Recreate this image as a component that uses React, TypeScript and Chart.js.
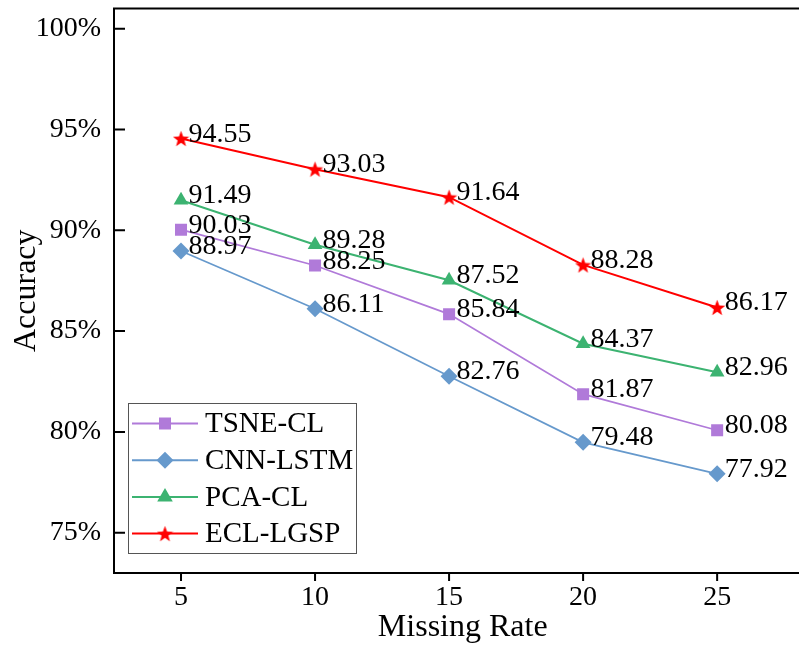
import React, { useEffect, useRef } from 'react';
import { Chart, registerables } from 'chart.js';
Chart.register(...registerables);

const missingRates = [5, 10, 15, 20, 25];
const tsneCL = [90.03, 88.25, 85.84, 81.87, 80.08];
const cnnLSTM = [88.97, 86.11, 82.76, 79.48, 77.92];
const pcaCL = [91.49, 89.28, 87.52, 84.37, 82.96];
const eclLGSP = [94.55, 93.03, 91.64, 88.28, 86.17];
const seriesNames = ['TSNE-CL', 'CNN-LSTM', 'PCA-CL', 'ECL-LGSP'];
const seriesColors = ['#b07ad9', '#6699cc', '#3cb371', '#ff0000'];
const yTicks = [75, 80, 85, 90, 95, 100];

const FONT = "'Liberation Serif', 'Times New Roman', serif";

function makeStar(size: number, color: string) {
  const c = document.createElement('canvas');
  c.width = size;
  c.height = size;
  const ctx = c.getContext('2d')!;
  const cx = size / 2, cy = size / 2 + 0.8, R = size / 2, r = R * 0.42;
  ctx.beginPath();
  for (let i = 0; i < 10; i++) {
    const a = -Math.PI / 2 + (i * Math.PI) / 5;
    const rad = i % 2 ? r : R;
    ctx.lineTo(cx + rad * Math.cos(a), cy + rad * Math.sin(a));
  }
  ctx.closePath();
  ctx.fillStyle = color;
  ctx.fill();
  return c;
}

function drawMarker(ctx: CanvasRenderingContext2D, kind: number, x: number, y: number, star: HTMLCanvasElement) {
  ctx.save();
  ctx.fillStyle = seriesColors[kind];
  ctx.beginPath();
  if (kind === 0) {
    ctx.rect(x - 6, y - 6, 12, 12);
    ctx.fill();
  } else if (kind === 1) {
    ctx.moveTo(x, y - 8.5);
    ctx.lineTo(x + 8.5, y);
    ctx.lineTo(x, y + 8.5);
    ctx.lineTo(x - 8.5, y);
    ctx.closePath();
    ctx.fill();
  } else if (kind === 2) {
    const r = 9;
    ctx.moveTo(x, y - r);
    ctx.lineTo(x + r * 0.866, y + r * 0.5);
    ctx.lineTo(x - r * 0.866, y + r * 0.5);
    ctx.closePath();
    ctx.fill();
  } else {
    ctx.drawImage(star, x - star.width / 2, y - star.height / 2);
  }
  ctx.restore();
}

export default function App() {
  const ref = useRef<HTMLCanvasElement>(null);
  useEffect(() => {
    const canvas = ref.current!;
    const star = makeStar(17, seriesColors[3]);
    const all = [tsneCL, cnnLSTM, pcaCL, eclLGSP];
    const styles: any[] = ['rect', 'rectRot', 'triangle', star];
    const radii = [8.5, 8.5, 8.5, 8];

    const framePlugin = {
      id: 'frame',
      afterDraw(chart: any) {
        const ctx = chart.ctx as CanvasRenderingContext2D;
        const a = chart.chartArea;
        const xs = chart.scales.x, ys = chart.scales.y;
        ctx.save();
        ctx.strokeStyle = '#000';
        ctx.lineWidth = 2;
        ctx.beginPath();
        ctx.moveTo(a.left, a.top);
        ctx.lineTo(a.right, a.top);
        ctx.lineTo(a.right, a.bottom);
        ctx.lineTo(a.left, a.bottom);
        ctx.closePath();
        ctx.stroke();
        ctx.beginPath();
        for (const v of yTicks) {
          const py = ys.getPixelForValue(v);
          ctx.moveTo(a.left, py);
          ctx.lineTo(a.left + 11, py);
        }
        for (const v of missingRates) {
          const px = xs.getPixelForValue(v);
          ctx.moveTo(px, a.bottom);
          ctx.lineTo(px, a.bottom + 8);
        }
        ctx.stroke();
        ctx.restore();
      },
    };

    const labelPlugin = {
      id: 'vlabels',
      afterDatasetsDraw(chart: any) {
        const ctx = chart.ctx as CanvasRenderingContext2D;
        ctx.save();
        ctx.fillStyle = '#000';
        ctx.font = `28px ${FONT}`;
        ctx.textAlign = 'left';
        ctx.textBaseline = 'alphabetic';
        chart.data.datasets.forEach((ds: any, i: number) => {
          const meta = chart.getDatasetMeta(i);
          meta.data.forEach((el: any, j: number) => {
            ctx.fillText(all[i][j].toFixed(2), el.x + 7.5, el.y + 3);
          });
        });
        ctx.restore();
      },
    };

    const legendPlugin = {
      id: 'mylegend',
      afterDraw(chart: any) {
        const ctx = chart.ctx as CanvasRenderingContext2D;
        ctx.save();
        ctx.fillStyle = '#fff';
        ctx.fillRect(128.5, 403.5, 228, 150);
        ctx.strokeStyle = '#555';
        ctx.lineWidth = 1;
        ctx.strokeRect(128.5, 403.5, 228, 150);
        ctx.font = `29px ${FONT}`;
        ctx.textBaseline = 'middle';
        ctx.textAlign = 'left';
        for (let i = 0; i < 4; i++) {
          const y = 423.5 + i * 36.7;
          ctx.strokeStyle = seriesColors[i];
          ctx.lineWidth = 2;
          ctx.beginPath();
          ctx.moveTo(132, y);
          ctx.lineTo(198, y);
          ctx.stroke();
          drawMarker(ctx, i, 165, y, star);
          ctx.fillStyle = '#000';
          ctx.fillText(seriesNames[i], 205, y + 1);
        }
        ctx.restore();
      },
    };

    const chart = new Chart(canvas, {
      type: 'line',
      data: {
        datasets: all.map((vals, i) => ({
          label: seriesNames[i],
          data: vals.map((v, j) => ({ x: missingRates[j], y: v })),
          borderColor: seriesColors[i],
          backgroundColor: seriesColors[i],
          borderWidth: i >= 2 ? 2 : 1.7,
          pointStyle: styles[i],
          pointRadius: radii[i],
          pointBorderWidth: 0,
          pointBorderColor: seriesColors[i],
          pointBackgroundColor: seriesColors[i],
          tension: 0,
          fill: false,
        })),
      },
      options: {
        animation: false,
        responsive: false,
        maintainAspectRatio: false,
        layout: { padding: { top: 7, left: 0, right: 0, bottom: 0 } },
        plugins: { legend: { display: false }, tooltip: { enabled: false } },
        scales: {
          x: {
            type: 'linear',
            min: 2.5,
            max: 28.52,
            afterBuildTicks: (s: any) => {
              s.ticks = missingRates.map((v) => ({ value: v }));
            },
            afterFit: (s: any) => {
              s.height = 74;
              s.paddingLeft = 0;
              s.paddingRight = 0;
            },
            grid: { display: false, drawTicks: false },
            border: { display: false },
            ticks: {
              color: '#000',
              font: { family: FONT, size: 28 },
              padding: 8,
              autoSkip: false,
              maxRotation: 0,
              callback: (v: any) => String(v),
            },
            title: {
              display: true,
              text: 'Missing Rate',
              color: '#000',
              font: { family: FONT, size: 32 },
              padding: { top: 0, bottom: 0 },
            },
          },
          y: {
            type: 'linear',
            min: 73,
            max: 101,
            afterBuildTicks: (s: any) => {
              s.ticks = yTicks.map((v) => ({ value: v }));
            },
            afterFit: (s: any) => {
              s.width = 114;
              s.paddingTop = 0;
              s.paddingBottom = 0;
            },
            grid: { display: false, drawTicks: false },
            border: { display: false },
            ticks: {
              color: '#000',
              font: { family: FONT, size: 28 },
              padding: 13,
              callback: (v: any) => v + '%',
            },
            title: {
              display: true,
              text: 'Accuracy',
              color: '#000',
              font: { family: FONT, size: 32 },
              padding: { top: 7, bottom: 0 },
            },
          },
        },
      },
      plugins: [framePlugin, labelPlugin, legendPlugin],
    });
    return () => chart.destroy();
  }, []);

  return (
    <div style={{ position: 'fixed', left: 0, top: 0, width: 799, height: 647, overflow: 'hidden', background: '#fff' }}>
      <canvas ref={ref} width={820} height={647} style={{ display: 'block' }} />
    </div>
  );
}
